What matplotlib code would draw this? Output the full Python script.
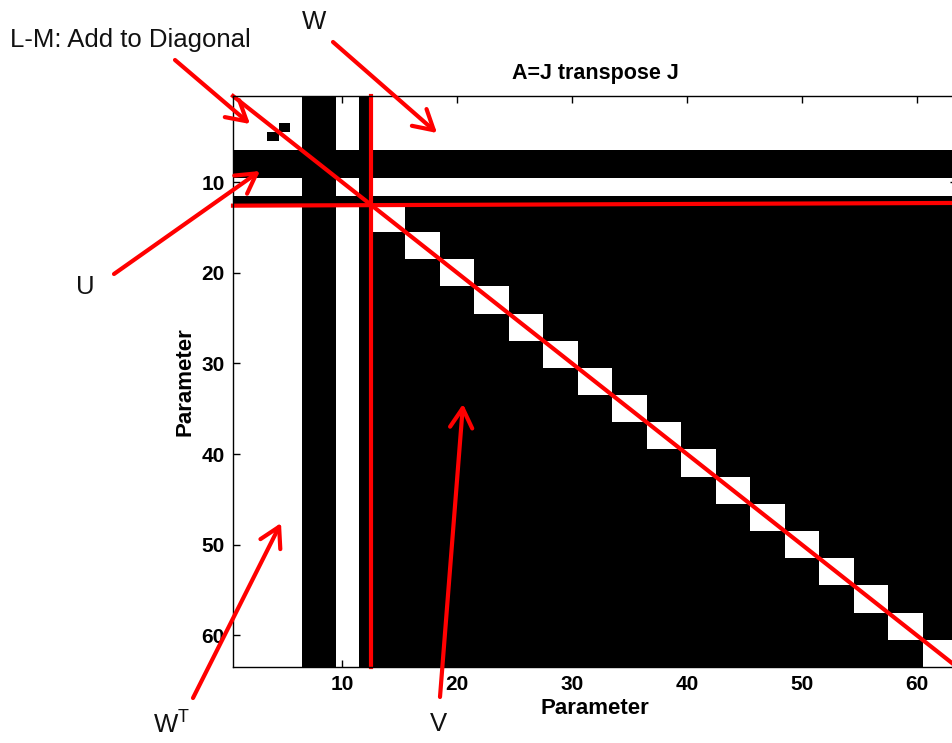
import numpy as np
import matplotlib
matplotlib.use("Agg")
import matplotlib.pyplot as plt

plt.rcParams['font.family'] = ['Liberation Sans', 'DejaVu Sans']

# ---- data (structure of A = J^T J) ----
n_params = 63
n_camera = 12          # first block of camera/shared parameters
block_size = 3         # size of diagonal point blocks
zero_params = [7, 8, 9, 12]      # parameters with empty rows/cols (1-based)
zero_pairs = [(4, 5), (5, 4)]    # extra zero entries in U (1-based)
xticks = [10, 20, 30, 40, 50, 60]
yticks = [10, 20, 30, 40, 50, 60]

# build sparsity pattern (1 = nonzero -> white)
A = np.zeros((n_params, n_params))
A[:n_camera, :] = 1
A[:, :n_camera] = 1
for s in range(n_camera, n_params, block_size):
    A[s:s + block_size, s:s + block_size] = 1
for p in zero_params:
    A[p - 1, :] = 0
    A[:, p - 1] = 0
for r, c in zero_pairs:
    A[r - 1, c - 1] = 0

W, H = 952, 743
fig = plt.figure(figsize=(W / 100, H / 100), dpi=100)
left, right, top, bottom = 233, 957, 96, 667
ax = fig.add_axes([left / W, (H - bottom) / H, (right - left) / W, (bottom - top) / H])
ax.imshow(A, cmap='gray', vmin=0, vmax=1, interpolation='nearest', aspect='auto',
          extent=(0.5, n_params + 0.5, n_params + 0.5, 0.5))
ax.set_xlim(0.5, n_params + 0.5)
ax.set_ylim(n_params + 0.5, 0.5)
ax.set_xticks(xticks)
ax.set_yticks(yticks)
ax.tick_params(direction='in', top=True, right=True, length=5, width=1, labelsize=15, pad=6)
for lab in ax.get_xticklabels() + ax.get_yticklabels():
    lab.set_fontweight('bold')
for s in ax.spines.values():
    s.set_linewidth(1)
ax.set_title('A=J transpose J', fontsize=15.5, fontweight='bold', pad=12)
ax.set_xlabel('Parameter', fontsize=16, fontweight='bold', labelpad=3)
ax.set_ylabel('Parameter', fontsize=16, fontweight='bold', labelpad=4)

# red partition lines
red = '#ff0000'
b = n_camera + 0.5
ax.plot([0.5, n_params + 0.5], [b + 0.1, b - 0.2], color=red, lw=3, clip_on=False)
ax.plot([b, b], [0.5, n_params + 0.5], color=red, lw=3, clip_on=False)
ax.plot([0.5, n_params + 0.5], [0.5, n_params + 0.5], color=red, lw=3, clip_on=False)

# arrows (figure pixel coords, origin top-left converted)
def fp(x, y):
    return (x, H - y)

arrows = [((175, 60), (250, 124)),
          ((333, 42), (437, 133)),
          ((114, 274), (260, 171)),
          ((193, 698), (281, 523)),
          ((440, 697), (463, 404))]
for start, tip in arrows:
    ax.annotate('', xy=fp(*tip), xytext=fp(*start), xycoords='figure pixels',
                textcoords='figure pixels', annotation_clip=False,
                arrowprops=dict(arrowstyle='->,head_length=0.7,head_width=0.4',
                                color=red, lw=3, mutation_scale=20,
                                shrinkA=0, shrinkB=0))

txt = dict(fontsize=18.5, color='#111111', xycoords='figure pixels', annotation_clip=False)
ax.annotate('L-M: Add to Diagonal', xy=fp(10, 40), ha='left', va='center', **txt)
ax.annotate('W', xy=fp(314, 22), ha='center', va='center', **txt)
ax.annotate('U', xy=fp(85, 287), ha='center', va='center', **txt)
ax.annotate(r'W$^{\mathregular{T}}$', xy=fp(172, 724), ha='center', va='center', **txt)
ax.annotate('V', xy=fp(438, 724), ha='center', va='center', **txt)

fig.savefig('out.png', dpi=100)
